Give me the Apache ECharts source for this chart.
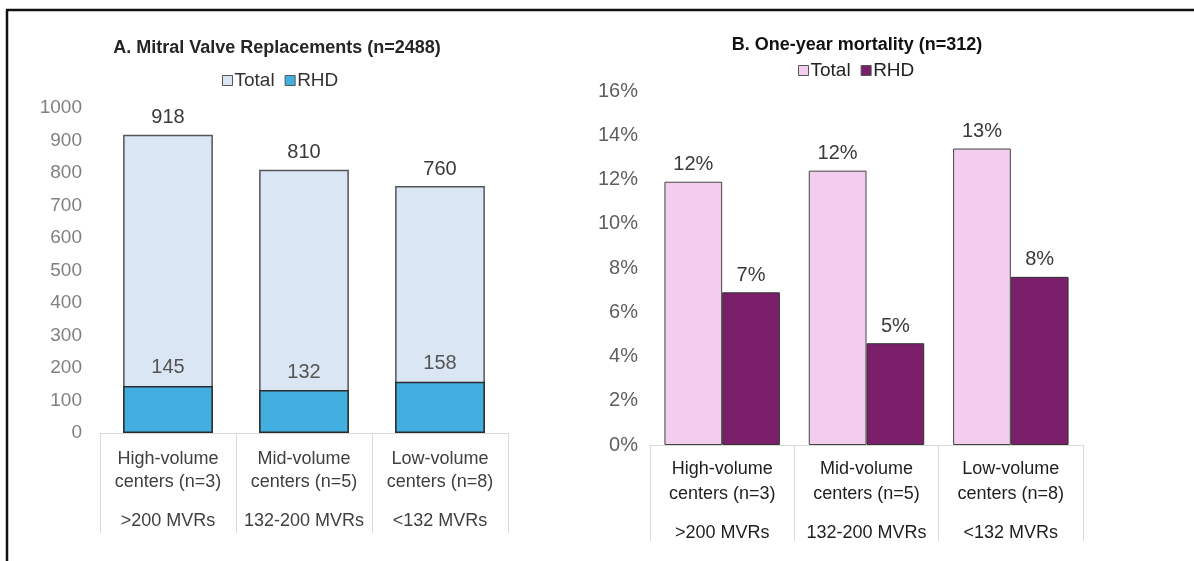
<!DOCTYPE html>
<html>
<head>
<meta charset="utf-8">
<style>
  html, body { margin: 0; padding: 0; background: #fff; }
  #chart { width: 1194px; height: 561px; }
</style>
<script src="https://cdn.jsdelivr.net/npm/echarts@6/dist/echarts.min.js"></script>
</head>
<body>
<div id="chart"></div>
<script>
// Centre groups and their MVR volume bands (shared by both panels)
const centerGroups = ['High-volume\ncenters (n=3)', 'Mid-volume\ncenters (n=5)', 'Low-volume\ncenters (n=8)'];
const volumeBands = ['>200 MVRs', '132-200 MVRs', '<132 MVRs'];

// Panel A: mitral valve replacements (counts)
const mvrTotal = [918, 810, 760];
const mvrRHD = [145, 132, 158];

// Panel B: one-year mortality (%)
const mortTotal = [11.9, 12.4, 13.4];
const mortRHD = [6.9, 4.6, 7.6];

const FONT = '"Liberation Sans", Arial, sans-serif';

const colA = { total: '#dae6f4', rhd: '#43afe0' };
const colB = { total: '#f2cdee', rhd: '#7b1f6a' };

function groupLabel(value, idx) {
  const lines = value.split('\n');
  return '{a|' + lines[0] + '}\n{a|' + lines[1] + '}\n{b|' + volumeBands[idx] + '}';
}

const chart = echarts.init(document.getElementById('chart'), null, { renderer: 'canvas' });

chart.setOption({
  animation: false,
  backgroundColor: '#ffffff',
  textStyle: { fontFamily: FONT },
  graphic: [
    // frame along the top and left edges
    { type: 'line', shape: { x1: 6, y1: 10, x2: 1194, y2: 10 }, style: { stroke: '#111', lineWidth: 2.5 } },
    { type: 'line', shape: { x1: 7, y1: 10, x2: 7, y2: 561 }, style: { stroke: '#111', lineWidth: 2.5 } },
    // panel titles
    { type: 'text', x: 277, y: 48, style: { text: 'A. Mitral Valve Replacements (n=2488)', align: 'center', verticalAlign: 'middle', font: 'bold 18px ' + FONT, fill: '#262626' } },
    { type: 'text', x: 857, y: 45, style: { text: 'B. One-year mortality (n=312)', align: 'center', verticalAlign: 'middle', font: 'bold 18px ' + FONT, fill: '#111' } }
  ],
  legend: [
    {
      left: 217, top: 66,
      itemWidth: 10, itemHeight: 10, itemGap: 10,
      icon: 'rect',
      textStyle: { fontSize: 19, color: '#333', fontFamily: FONT, padding: [0, 0, 0, -3] },
      formatter: name => name.split(' ')[0],
      data: [
        { name: 'Total A', itemStyle: { color: colA.total, borderColor: '#555', borderWidth: 1 } },
        { name: 'RHD A', itemStyle: { color: colA.rhd, borderColor: '#555', borderWidth: 1 } }
      ]
    },
    {
      left: 793, top: 56,
      itemWidth: 10, itemHeight: 10, itemGap: 10,
      icon: 'rect',
      textStyle: { fontSize: 19, color: '#222', fontFamily: FONT, padding: [0, 0, 0, -3] },
      formatter: name => name.split(' ')[0],
      data: [
        { name: 'Total B', itemStyle: { color: colB.total, borderColor: '#555', borderWidth: 1 } },
        { name: 'RHD B', itemStyle: { color: colB.rhd, borderColor: '#555', borderWidth: 1 } }
      ]
    }
  ],
  grid: [
    { left: 100, top: 108, width: 408, height: 325 },
    { left: 650, top: 91, width: 433, height: 354 }
  ],
  xAxis: [
    {
      type: 'category', gridIndex: 0, data: centerGroups,
      axisLine: { lineStyle: { color: '#d9d9d9', width: 1 } },
      axisTick: { show: true, interval: 0, length: 100, lineStyle: { color: '#d9d9d9' } },
      axisLabel: {
        interval: 0, margin: 15,
        formatter: groupLabel,
        rich: {
          a: { fontSize: 18, lineHeight: 23, color: '#404040', fontFamily: FONT },
          b: { fontSize: 18, lineHeight: 55, color: '#404040', fontFamily: FONT }
        }
      }
    },
    {
      type: 'category', gridIndex: 1, data: centerGroups,
      axisLine: { lineStyle: { color: '#d9d9d9', width: 1 } },
      axisTick: { show: true, interval: 0, length: 96, lineStyle: { color: '#d9d9d9' } },
      axisLabel: {
        interval: 0, margin: 12,
        formatter: groupLabel,
        rich: {
          a: { fontSize: 18, lineHeight: 25, color: '#1e1e1e', fontFamily: FONT },
          b: { fontSize: 18, lineHeight: 53, color: '#1e1e1e', fontFamily: FONT }
        }
      }
    }
  ],
  yAxis: [
    {
      type: 'value', gridIndex: 0, min: 0, max: 1000, interval: 100,
      splitLine: { show: false }, axisLine: { show: false }, axisTick: { show: false },
      axisLabel: { margin: 18, fontSize: 19, color: '#808080', fontFamily: FONT, formatter: v => String(v) }
    },
    {
      type: 'value', gridIndex: 1, min: 0, max: 16, interval: 2,
      splitLine: { show: false }, axisLine: { show: false }, axisTick: { show: false },
      axisLabel: { margin: 12, fontSize: 20, color: '#5f5f5f', fontFamily: FONT, formatter: '{value}%' }
    }
  ],
  series: [
    {
      name: 'Total A', type: 'bar', xAxisIndex: 0, yAxisIndex: 0, data: mvrTotal,
      barCategoryGap: '34%', barGap: '-100%',
      itemStyle: { color: colA.total, borderColor: '#555', borderWidth: 1.5 },
      label: { show: true, position: 'top', distance: 7, fontSize: 20, color: '#3a3a3a', fontFamily: FONT }
    },
    {
      name: 'RHD A', type: 'bar', xAxisIndex: 0, yAxisIndex: 0, data: mvrRHD,
      barCategoryGap: '34%', barGap: '-100%',
      itemStyle: { color: colA.rhd, borderColor: '#2b2b2b', borderWidth: 1.5 },
      label: { show: true, position: 'top', distance: 8, fontSize: 20, color: '#555', fontFamily: FONT }
    },
    {
      name: 'Total B', type: 'bar', xAxisIndex: 1, yAxisIndex: 1, data: mortTotal,
      barCategoryGap: '20%', barGap: '0%',
      itemStyle: { color: colB.total, borderColor: '#444', borderWidth: 1 },
      label: { show: true, position: 'top', distance: 7, fontSize: 20, color: '#3a3a3a', fontFamily: FONT,
               formatter: p => Math.round(p.value) + '%' }
    },
    {
      name: 'RHD B', type: 'bar', xAxisIndex: 1, yAxisIndex: 1, data: mortRHD,
      barCategoryGap: '20%', barGap: '0%',
      itemStyle: { color: colB.rhd, borderColor: '#333', borderWidth: 1 },
      label: { show: true, position: 'top', distance: 7, fontSize: 20, color: '#3a3a3a', fontFamily: FONT,
               formatter: p => Math.round(p.value) + '%' }
    }
  ]
});
</script>
</body>
</html>
